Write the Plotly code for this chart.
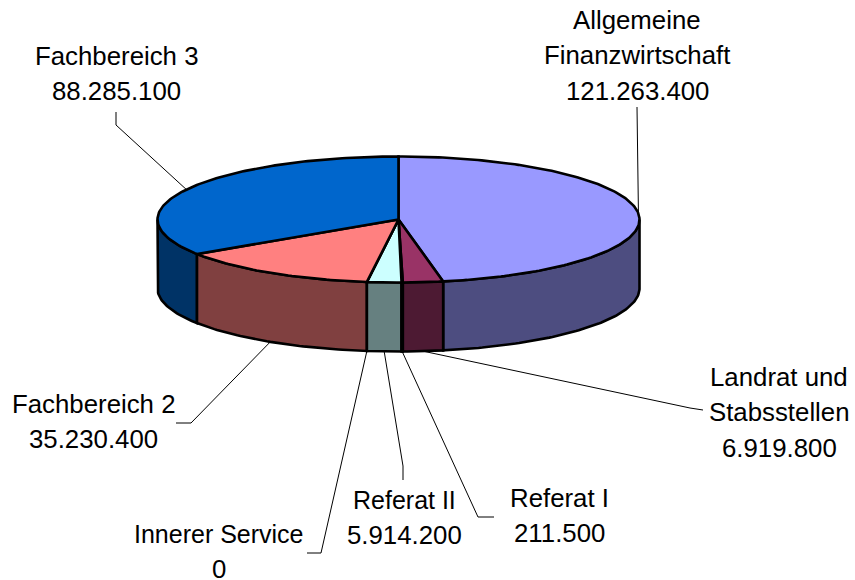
import numpy as np
import plotly.graph_objects as go

labels = ["Allgemeine\nFinanzwirtschaft", "Landrat und\nStabsstellen", "Referat I", "Referat II",
          "Innerer Service", "Fachbereich 2", "Fachbereich 3"]
values = [121263400, 6919800, 211500, 5914200, 0, 35230400, 88285100]
value_text = ["121.263.400", "6.919.800", "211.500", "5.914.200", "0", "35.230.400", "88.285.100"]
top_colors = ["#9999FF", "#993366", "#FFFFCC", "#CCFFFF", "#660066", "#FF8080", "#0066CC"]
side_colors = ["#4D4D80", "#4D1A33", "#808066", "#668080", "#330033", "#804040", "#003366"]

# layout of the drawing (pixels)
CX, CY, RX, RY, DEPTH = 398.5, 219.5, 241, 63, 69
LINE_H = 35.3
FONT_SIZE = 25.8
NARROW_LABELS = {"Referat II": 25, "Innerer Service": 25}
# label centre x, y of first line, elbow points of leader (from label to pie)
label_pos = [
    (637, 20, [(637, 107)]),
    (779, 377, [(703, 410), (690, 408)]),
    (559, 498, [(494, 517), (478, 517)]),
    (404, 500, [(403, 480), (403, 466)]),
    (219, 534, [(307, 553), (321, 553)]),
    (93, 404, [(176, 423), (191, 423)]),
    (116, 56, [(116, 112), (116, 125)]),
]

total = sum(values)
fractions = np.array(values) / total
ends = np.cumsum(fractions) * 2 * np.pi
starts = ends - fractions * 2 * np.pi


def ell(theta, dy=0.0):
    return CX + RX * np.sin(theta), CY - RY * np.cos(theta) + dy


fig = go.Figure()
EDGE = dict(color="black", width=2.6)

# side walls (front half only)
order = sorted(range(len(values)), key=lambda i: -abs(np.pi - (starts[i] + ends[i]) / 2))
for i in order:
    a = max(starts[i], np.pi / 2)
    b = min(ends[i], 3 * np.pi / 2)
    if b <= a:
        continue
    t = np.linspace(a, b, max(3, int((b - a) * 60)))
    xt, yt = ell(t)
    xb, yb = ell(t[::-1], DEPTH)
    x = np.r_[xt, xb, xt[0]]
    y = np.r_[yt, yb, yt[0]]
    fig.add_trace(go.Scatter(x=x, y=y, mode="lines", fill="toself", fillcolor=side_colors[i],
                             line=EDGE, hoverinfo="skip", showlegend=False))

# top slices
for i in range(len(values)):
    t = np.linspace(starts[i], ends[i], max(2, int((ends[i] - starts[i]) * 60)))
    xt, yt = ell(t)
    x = np.r_[CX, xt, CX]
    y = np.r_[CY, yt, CY]
    fig.add_trace(go.Scatter(x=x, y=y, mode="lines", fill="toself", fillcolor=top_colors[i],
                             line=EDGE, hoverinfo="skip", showlegend=False))

# leader lines
for i, (cx, ly, elbows) in enumerate(label_pos):
    mid = (starts[i] + ends[i]) / 2
    dy = DEPTH if np.cos(mid) < 0 else 0
    ax, ay = ell(mid, dy)
    xs = [p[0] for p in elbows] + [ax]
    ys = [p[1] for p in elbows] + [ay]
    fig.add_trace(go.Scatter(x=xs, y=ys, mode="lines", line=dict(color="black", width=1),
                             hoverinfo="skip", showlegend=False))

# labels
for i, (cx, ly, elbows) in enumerate(label_pos):
    lines = labels[i].split("\n") + [value_text[i]]
    for k, s in enumerate(lines):
        font = dict(family="Liberation Sans, Arial, sans-serif", color="black",
                    size=NARROW_LABELS.get(s, FONT_SIZE))
        fig.add_annotation(x=cx, y=ly + k * LINE_H, text=s, showarrow=False, font=font,
                           xanchor="center", yanchor="middle")

fig.update_layout(
    width=855, height=580, margin=dict(l=0, r=0, t=0, b=0),
    paper_bgcolor="white", plot_bgcolor="white", showlegend=False,
    xaxis=dict(range=[0, 855], visible=False, fixedrange=True),
    yaxis=dict(range=[580, 0], visible=False, fixedrange=True),
)
fig.write_html("out.html", config={"displayModeBar": False},
               post_script="document.body.style.margin='0';document.body.style.overflow='hidden';")
